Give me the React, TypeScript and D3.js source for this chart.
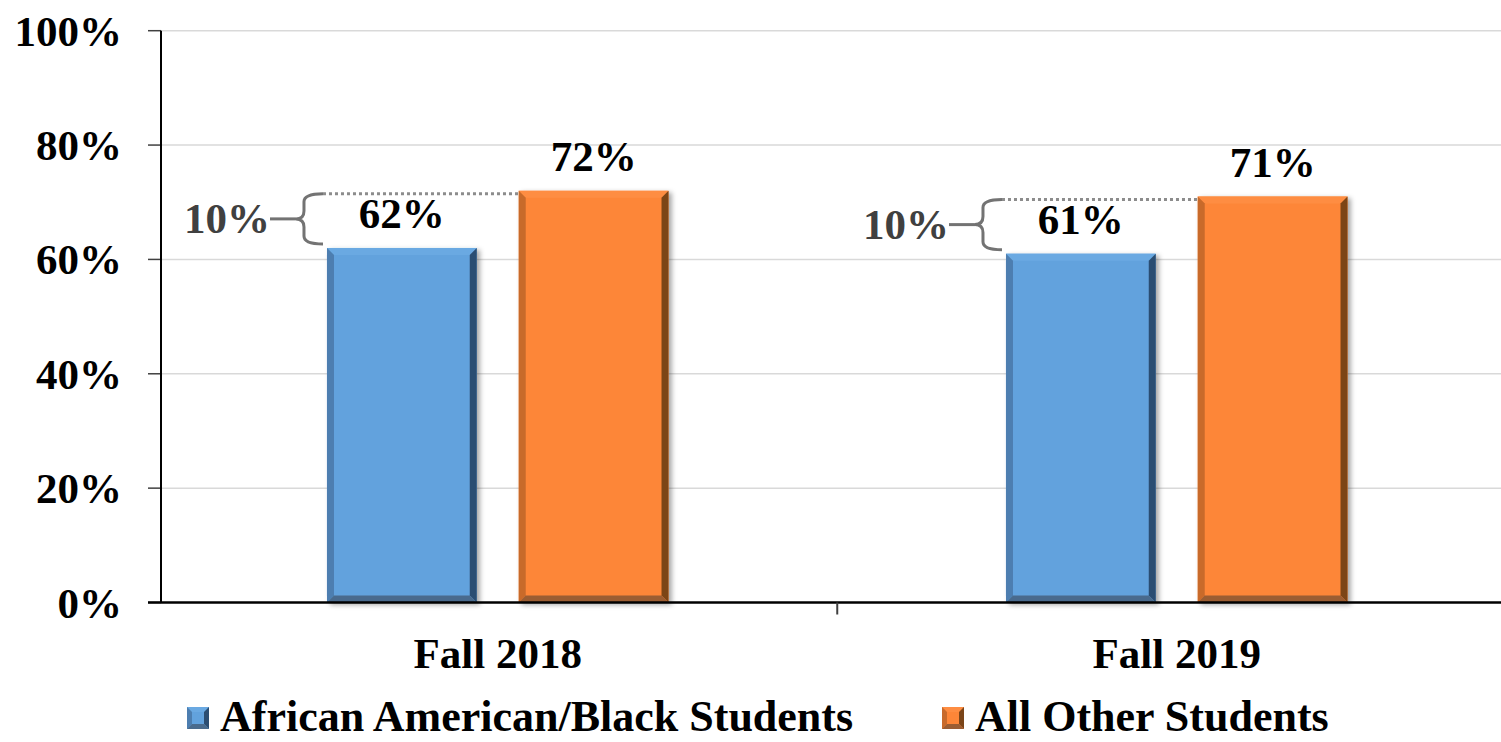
import React from "react";
import * as d3 from "d3";

const categories = ["Fall 2018", "Fall 2019"];
const seriesNames = ["African American/Black Students", "All Other Students"];
const blackStudents = [0.62, 0.61];
const otherStudents = [0.72, 0.71];
const gapLabels = ["10%", "10%"];
const yTicks = [0, 0.2, 0.4, 0.6, 0.8, 1.0];

const W = 1501;
const H = 742;
const FONT = "'Liberation Serif', 'Times New Roman', serif";

const palettes = [
  { main: "#62a2dd", top: "#6aa9e2", left: "#4d7eb0", right: "#2c4e72", bottom: "#4a6b8d" },
  { main: "#fd8638", top: "#fe8d42", left: "#c86a2b", right: "#7b4519", bottom: "#9b5d33" },
];

function BevelRect({ x0, x1, y0, y1, b, pal, shadow }: any) {
  return (
    <g filter={shadow ? "url(#shadow)" : undefined}>
      <rect x={x0} y={y0} width={x1 - x0} height={y1 - y0} fill={pal.main} />
      <polygon points={`${x0},${y0} ${x1},${y0} ${x1 - b},${y0 + b} ${x0 + b},${y0 + b}`} fill={pal.top} />
      <polygon points={`${x0},${y0} ${x0 + b},${y0 + b} ${x0 + b},${y1 - b} ${x0},${y1}`} fill={pal.left} />
      <polygon points={`${x1},${y0} ${x1 - b},${y0 + b} ${x1 - b},${y1 - b} ${x1},${y1}`} fill={pal.right} />
      <polygon points={`${x0},${y1} ${x0 + b},${y1 - b} ${x1 - b},${y1 - b} ${x1},${y1}`} fill={pal.bottom} />
    </g>
  );
}

export default function App() {
  const x = d3.scaleBand<string>().domain(categories).range([158.25, 1516.25]).padding(0);
  const bw = x.bandwidth();
  const inner = d3
    .scaleBand<number>()
    .domain([0, 1])
    .range([bw * 0.2485, bw * 0.7515])
    .paddingInner(0.219)
    .paddingOuter(0);
  const y = d3.scaleLinear().domain([0, 1]).range([602.5, 30.7]);
  const axisX = 161;
  const fmt = d3.format(".0%");

  const series = [blackStudents, otherStudents];

  return (
    <svg width={W} height={H} style={{ position: "absolute", left: 0, top: 0, background: "#fff" }}>
      <defs>
        <filter id="shadow" x="-20%" y="-10%" width="140%" height="130%">
          <feDropShadow dx="3" dy="2" stdDeviation="2.5" floodColor="#000" floodOpacity="0.35" />
        </filter>
      </defs>

      {yTicks.filter((t) => t > 0).map((t) => (
        <line key={"g" + t} x1={axisX} x2={W} y1={y(t)} y2={y(t)} stroke="#d9d9d9" strokeWidth={1.5} />
      ))}

      {yTicks.map((t) => (
        <g key={"t" + t}>
          <line x1={148} x2={axisX} y1={y(t)} y2={y(t)} stroke="#404040" strokeWidth={1.5} />
          <text
            x={122}
            y={y(t) + 15}
            textAnchor="end"
            fontFamily={FONT}
            fontWeight="bold"
            fontSize={43}
            fill="#000"
          >
            {fmt(t)}
          </text>
        </g>
      ))}

      {categories.map((c, ci) =>
        series.map((s, si) => {
          const x0 = (x(c) as number) + (inner(si) as number);
          const x1 = x0 + inner.bandwidth();
          const y0 = y(s[ci]);
          return (
            <g key={c + si}>
              <BevelRect x0={x0} x1={x1} y0={y0} y1={y(0)} b={7} pal={palettes[si]} shadow />
              <text
                x={(x0 + x1) / 2}
                y={y0 - 20}
                textAnchor="middle"
                fontFamily={FONT}
                fontWeight="bold"
                fontSize={43}
                fill="#000"
              >
                {fmt(s[ci])}
              </text>
            </g>
          );
        })
      )}

      <line x1={axisX} x2={axisX} y1={y(1)} y2={y(0)} stroke="#000" strokeWidth={2} />
      <line x1={148} x2={W} y1={y(0)} y2={y(0)} stroke="#000" strokeWidth={2.5} />
      {categories.map((c, i) => {
        const xt = (x(c) as number) + bw;
        return i < categories.length - 1 ? (
          <line key={"ct" + c} x1={xt} x2={xt} y1={y(0)} y2={y(0) + 12} stroke="#404040" strokeWidth={2} />
        ) : null;
      })}
      {categories.map((c) => (
        <text
          key={"xl" + c}
          x={(x(c) as number) + bw / 2}
          y={668}
          textAnchor="middle"
          fontFamily={FONT}
          fontWeight="bold"
          fontSize={43}
          fill="#000"
        >
          {c}
        </text>
      ))}

      {categories.map((c, ci) => {
        const bx = (x(c) as number) + (inner(0) as number);
        const ox = (x(c) as number) + (inner(1) as number);
        const right = bx - 4;
        const spine = right - 19;
        const tip = spine - 8;
        const yT = y(otherStudents[ci]) + 3;
        const yB = y(blackStudents[ci]) - 4;
        const yM = (yT + yB) / 2;
        const path = `M${right},${yT} Q${spine},${yT} ${spine},${yT + 8} L${spine},${yM - 8} Q${spine},${yM} ${tip},${yM} Q${spine},${yM} ${spine},${yM + 8} L${spine},${yB - 8} Q${spine},${yB} ${right},${yB}`;
        return (
          <g key={"ann" + c}>
            <line x1={right} x2={ox} y1={yT} y2={yT} stroke="#8c8c8c" strokeWidth={3} strokeDasharray="3,3" />
            <path d={path} fill="none" stroke="#737373" strokeWidth={3} />
            <line x1={tip - 26} x2={tip} y1={yM} y2={yM} stroke="#737373" strokeWidth={3} />
            <text
              x={tip - 26}
              y={yM + 14}
              textAnchor="end"
              fontFamily={FONT}
              fontWeight="bold"
              fontSize={43}
              fill="#404040"
            >
              {gapLabels[ci]}
            </text>
          </g>
        );
      })}

      {seriesNames.map((n, si) => {
        const lx = si === 0 ? 187 : 942;
        return (
          <g key={"lg" + n}>
            <BevelRect x0={lx} x1={lx + 22} y0={707} y1={729} b={5} pal={palettes[si]} shadow={false} />
            <text x={lx + 33} y={731} fontFamily={FONT} fontWeight="bold" fontSize={44} fill="#000">
              {n}
            </text>
          </g>
        );
      })}
    </svg>
  );
}
